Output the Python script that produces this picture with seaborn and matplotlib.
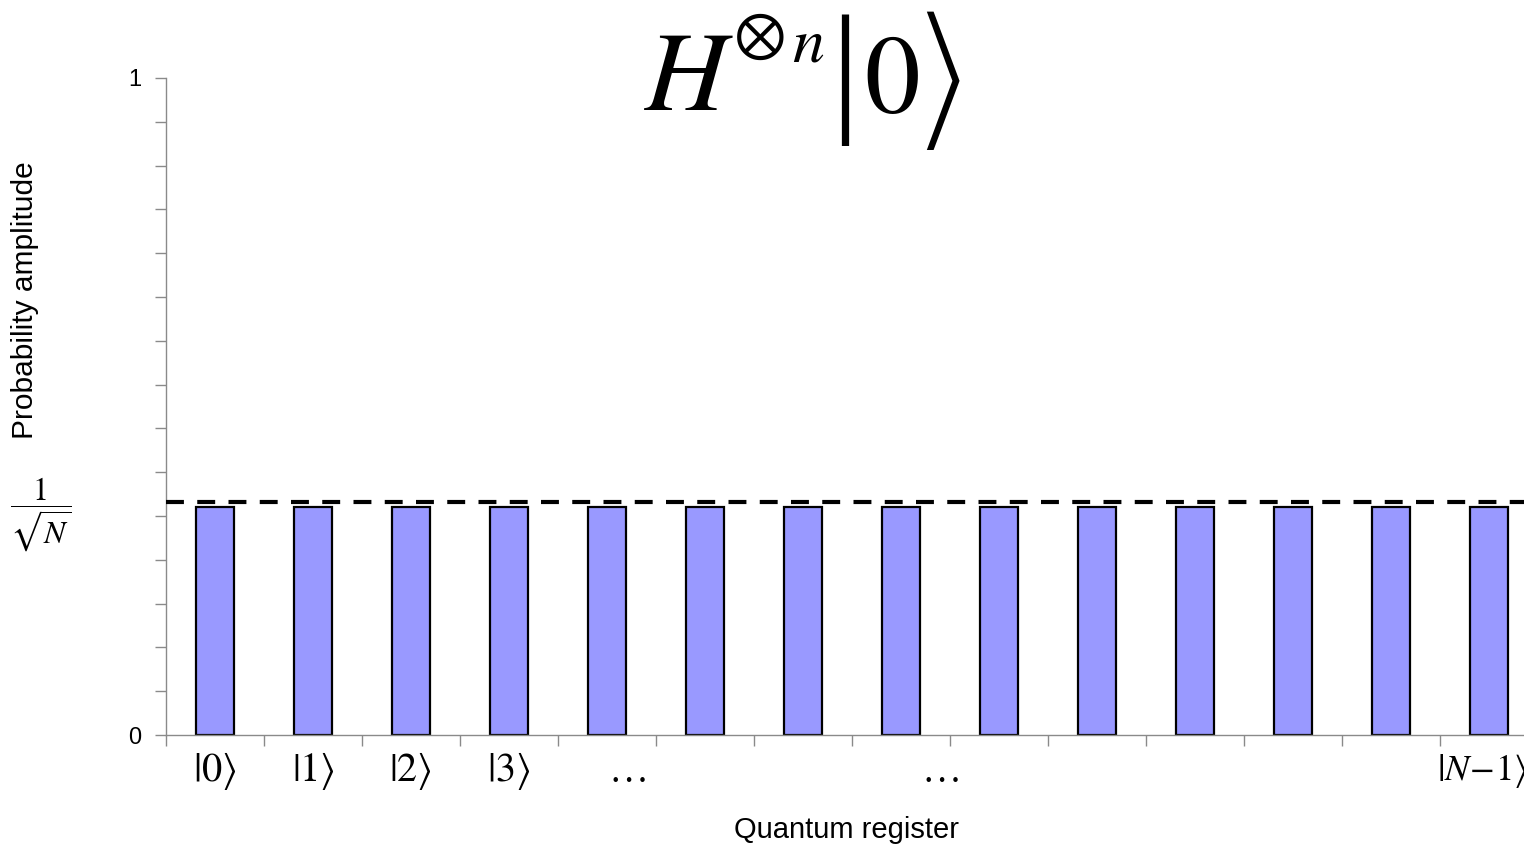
import matplotlib
matplotlib.use("Agg")
import matplotlib.pyplot as plt
import seaborn as sns
import numpy as np

# ---- data ----
states = [f"s{i}" for i in range(14)]
amplitudes = [0.347] * 14
uniform_level = 0.355
tick_labels = [r"$\left|0\right\rangle$", r"$\left|1\right\rangle$",
               r"$\left|2\right\rangle$", r"$\left|3\right\rangle$",
               r"$\ldots$", r"$\ldots$", r"$\left|N\!-\!1\right\rangle$"]
tick_label_pos = [0, 1, 2, 3, 4.2, 7.4, 12.93]
y_labels = ["0", "1"]

sns.set_theme(style="white")
plt.rcParams['font.family'] = ['Liberation Sans', 'DejaVu Sans']
plt.rcParams['mathtext.fontset'] = 'stix'
plt.rcParams['text.color'] = 'black'

fig = plt.figure(figsize=(15.24, 8.47), dpi=100)
ax = fig.add_axes([166/1524, 1-735/847, (1524-166)/1524, (735-78)/847])

sns.barplot(x=states, y=amplitudes, color="#9999ff", saturation=1,
            width=0.39, edgecolor="black", linewidth=1.6, ax=ax)

ax.axhline(uniform_level, color="black", lw=3, ls=(0, (4.3, 3.2)), zorder=5)

ax.set_xlim(-0.5, 13.36)
ax.set_ylim(0, 1)
ax.set_xlabel("")
ax.set_ylabel("")

for s in ["top", "right"]:
    ax.spines[s].set_visible(False)
for s in ["left", "bottom"]:
    ax.spines[s].set_color("#8a8a8a")
    ax.spines[s].set_linewidth(1.0)

ax.set_yticks(np.arange(16) / 15)
ax.set_yticklabels([y_labels[0]] + [""] * 14 + [y_labels[1]], fontsize=17, color="black")
ax.set_xticks(np.arange(-0.5, 13, 1))
ax.set_xticklabels([])
ax.tick_params(axis="both", which="major", length=8, width=1.0, color="#8a8a8a",
               direction="out", left=True, bottom=True, pad=10)

for lab, pos in zip(tick_labels, tick_label_pos):
    size = 26 if "N" in lab else 29
    ax.text(pos, -0.055, lab, transform=ax.get_xaxis_transform(), ha="center",
            va="center", fontsize=size, color="black")

ax.text(-0.5 - 126/98, uniform_level - 0.02, r"$\dfrac{1}{\sqrt{N}}$",
        ha="center", va="center", fontsize=23, color="black")

fig.text(846/1524, 1-830/847, "Quantum register", ha="center", va="center", fontsize=21)
fig.text(25/1524, 1-300/847, "Probability amplitude", ha="center", va="center",
         rotation=90, fontsize=21.5)

# title  H^{⊗n}|0⟩ built from serif glyphs
def ft(xp, yp, s, size, family="STIXGeneral", **kw):
    fig.text(xp/1524, 1-yp/847, s, fontsize=size, family=family, color="black", **kw)

ft(686, 110, "H", 82, style="italic", ha="center", va="baseline")
ft(760, 38.5, "\u2297", 45, ha="center", va="center")
ft(808, 62, "n", 46, style="italic", ha="center", va="baseline")
ft(845, 80.5, "|", 104, family=["Liberation Serif", "DejaVu Serif"], ha="center", va="center")
ft(892, 112, "0", 80, ha="center", va="baseline")
ft(942, 80.5, "\u27e9", 54, family="STIXSizeTwoSym", ha="center", va="center")

fig.savefig("out.png", dpi=100)
